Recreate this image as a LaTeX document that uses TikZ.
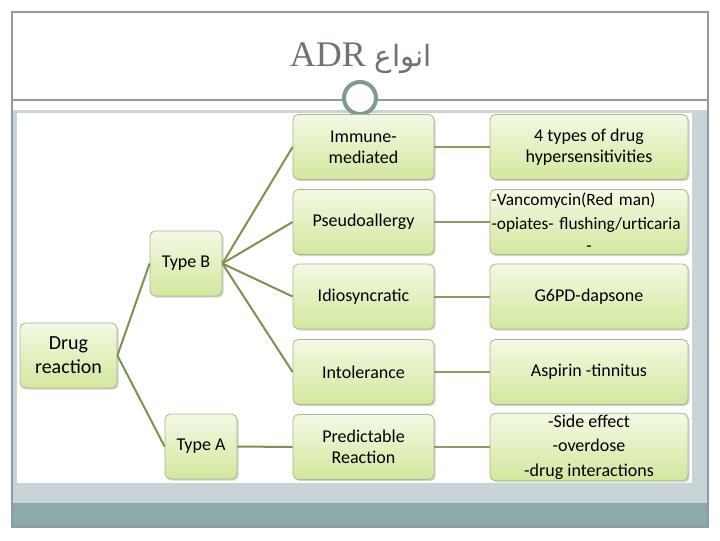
\documentclass[tikz,border=0pt]{standalone}
\usepackage{fontspec}
\setmainfont{Carlito}
\newfontfamily\titlefont{Liberation Serif}
\newfontfamily\arabicfont[Script=Arabic]{DejaVu Sans}
\TeXXeTstate=1
\usetikzlibrary{shadows}
\definecolor{framegray}{HTML}{8E9C9C}
\definecolor{panelgray}{HTML}{C9D4D9}
\definecolor{bandteal}{HTML}{8BAAA9}
\definecolor{titlegray}{HTML}{6E7373}
\definecolor{ringcol}{HTML}{7F9999}
\definecolor{boxtop}{HTML}{F3F9E4}
\definecolor{boxbot}{HTML}{D2E89D}
\definecolor{boxedge}{HTML}{A9B98C}
\definecolor{linkcol}{HTML}{7F914F}
\tikzset{
  gbox/.style={rectangle, rounded corners=4pt, draw=boxedge, line width=0.6pt,
    top color=boxtop, bottom color=boxbot, inner sep=1pt, align=center,
    font=\fontsize{13.5}{16}\selectfont, text=black,
    drop shadow={opacity=0.35, shadow xshift=1.2pt, shadow yshift=-1.2pt}},
  midbox/.style={gbox, minimum width=105.75pt, minimum height=48.75pt},
  rightbox/.style={gbox, minimum width=148.5pt, minimum height=48.75pt},
  link/.style={draw=linkcol, line width=1.5pt},
  hlink/.style={draw=linkcol!90, line width=1.5pt}
}
\begin{document}
\begin{tikzpicture}[x=0.75pt,y=-0.75pt]
\useasboundingbox (0,0) rectangle (720,540);
\fill[white] (0,0) rectangle (720,540);
% panel
\fill[panelgray] (12,110) rectangle (708,503);
\fill[white] (17,113) rectangle (692,483);
\fill[bandteal] (12,503) rectangle (708,527);
% frame
\draw[framegray, line width=0.8pt] (12,12) rectangle (708,527);
\draw[framegray, line width=0.8pt] (12,100) -- (708,100);
% title
\node (title) at (361,58) {\titlefont\color{titlegray}\fontsize{27}{32}\selectfont ADR {\arabicfont\fontsize{22}{26}\selectfont\beginR انواع\endR}};
\node[circle, draw=ringcol, line width=3pt, fill=white, minimum size=24pt, inner sep=0pt] (ring) at (360,98) {};
% nodes
\node[gbox, minimum width=72.75pt, minimum height=48.75pt, font=\fontsize{15}{18}\selectfont] (drug) at (68.5,355.5) {Drug\\reaction};
\node[gbox, minimum width=54pt, minimum height=48.75pt] (typeb) at (186,263.5) {Type B};
\node[gbox, minimum width=54pt, minimum height=48.75pt] (typea) at (201,446.5) {Type A};
\node[midbox] (imm) at (363.5,147) {Immune-\\mediated};
\node[midbox] (pse) at (363.5,222) {Pseudoallergy};
\node[midbox] (idi) at (363.5,296.5) {Idiosyncratic};
\node[midbox] (int) at (363.5,372) {Intolerance};
\node[midbox] (pre) at (363.5,447) {Predictable\\Reaction};
\node[rightbox] (r1) at (589,147) {4 types of drug\\hypersensitivities};
\node[rightbox, text width=146pt, align=left, font=\fontsize{13}{15}\selectfont] (r2) at (589,222) {-Vancomycin(Red man)\\[3pt]-opiates- flushing/urticaria\\[1pt]\hspace*{\fill}-\hspace*{\fill}};
\node[rightbox] (r3) at (589,296.5) {G6PD-dapsone};
\node[rightbox] (r4) at (589,372) {Aspirin -tinnitus};
\node[rightbox] (r5) at (589,447) {-Side effect\\[2.5pt]-overdose\\[2.5pt]-drug interactions};
% connectors
\draw[link] (drug.east) -- (typeb.west);
\draw[link] (drug.east) -- (typea.west);
\foreach \n in {imm,pse,idi,int} \draw[link] (typeb.east) -- (\n.west);
\draw[link] (typea.east) -- (pre.west);
\foreach \a/\b in {imm/r1,pse/r2,idi/r3,int/r4,pre/r5} \draw[hlink] (\a.east) -- (\b.west);
\end{tikzpicture}
\end{document}
